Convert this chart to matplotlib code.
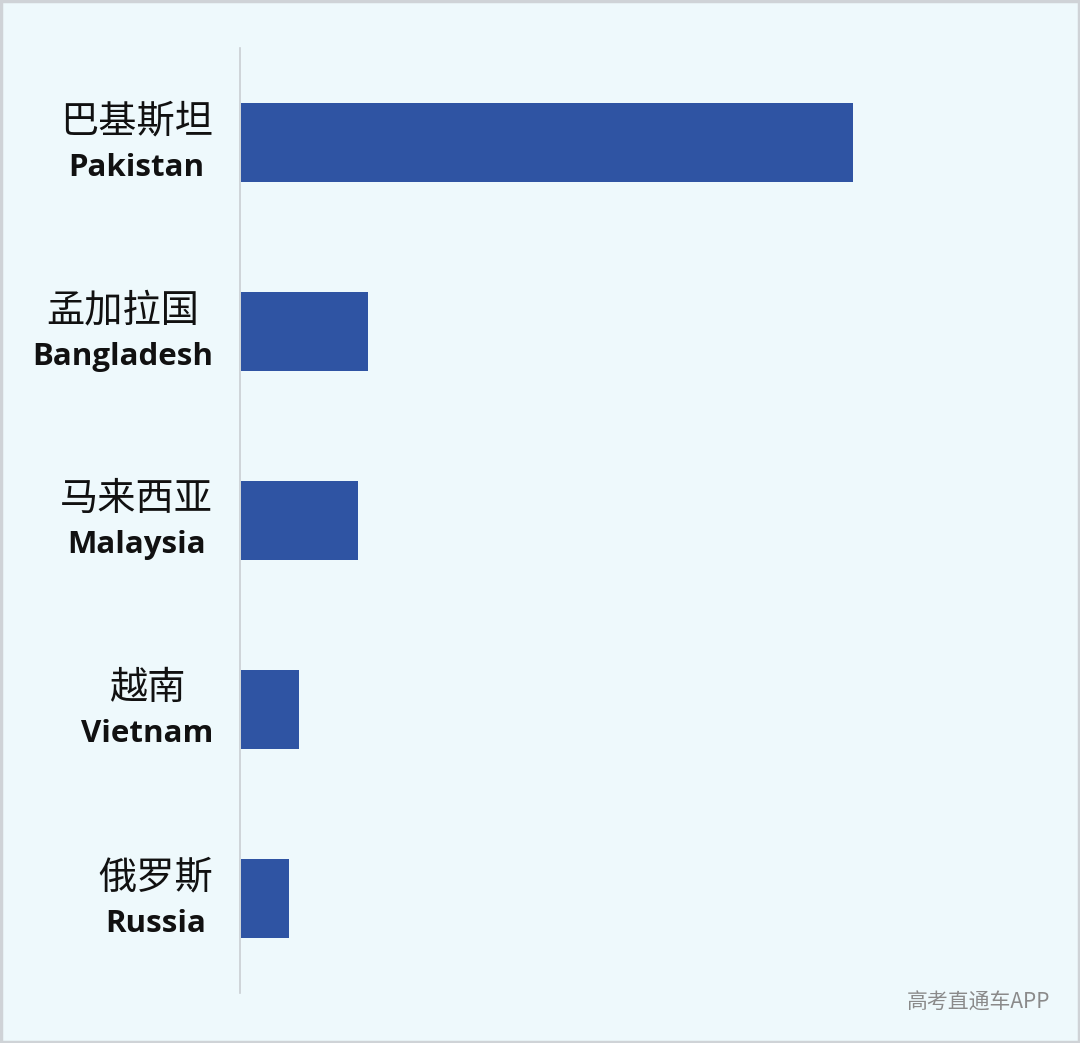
import matplotlib
matplotlib.use("Agg")
import matplotlib.pyplot as plt
from matplotlib.patches import Rectangle
from matplotlib.transforms import offset_copy

categories_cn = ["巴基斯坦", "孟加拉国", "马来西亚", "越南", "俄罗斯"]
categories_en = ["Pakistan", "Bangladesh", "Malaysia", "Vietnam", "Russia"]
values = [612, 127, 117, 58, 48]

BG = "#eef9fc"
BAR = "#2f54a3"

fig = plt.figure(figsize=(10.8, 10.43), dpi=100)
fig.patch.set_facecolor(BG)
W, H = 1080, 1043
ax = fig.add_axes([240 / W, 1 - 993 / H, 800 / W, 945 / H])
ax.set_facecolor(BG)

pos = list(range(len(values)))
ax.barh(pos, values, height=0.418, color=BAR, left=0)
ax.set_xlim(-1, 799)
ax.set_ylim(4.5, -0.5)

for s in ["top", "right", "bottom"]:
    ax.spines[s].set_visible(False)
ax.spines["left"].set_color("#c9ced3")
ax.spines["left"].set_linewidth(1.2)
ax.set_xticks([])
ax.set_yticks([])

fig.canvas.draw()
renderer = fig.canvas.get_renderer()
right_px = 27  # gap between label block right edge and axis, in px

for i, (cn, en) in enumerate(zip(categories_cn, categories_en)):
    t1 = ax.annotate(cn, xy=(0, i), xycoords=("axes fraction", "data"),
                     xytext=(0, 21 * 0.72), textcoords="offset points",
                     ha="center", va="center", fontsize=27.5,
                     family=["Noto Sans CJK SC", "DejaVu Sans"], color="#111111")
    t2 = ax.annotate(en, xy=(0, i), xycoords=("axes fraction", "data"),
                     xytext=(0, -25 * 0.72), textcoords="offset points",
                     ha="center", va="center", fontsize=22.5, fontweight="bold",
                     family=["Open Sans", "DejaVu Sans"], color="#111111")
    w1 = t1.get_window_extent(renderer).width
    w2 = t2.get_window_extent(renderer).width
    half = max(w1, w2) / 2
    dx = -(right_px + half) * 72 / fig.dpi
    t1.xyann = (dx, 21 * 0.72)
    t2.xyann = (dx, -25 * 0.72)

fig.text(1050 / W, 1 - 1003 / H, "高考直通车APP", ha="right", va="center",
         fontsize=15, color="#8a8a8a", family=["Noto Sans CJK SC", "DejaVu Sans"])

fig.patches.append(Rectangle((0.001, 0.001), 0.998, 0.998, transform=fig.transFigure,
                             fill=False, edgecolor="#cfd3d7", linewidth=2.5))

fig.savefig("out.png", dpi=100, facecolor=BG)
